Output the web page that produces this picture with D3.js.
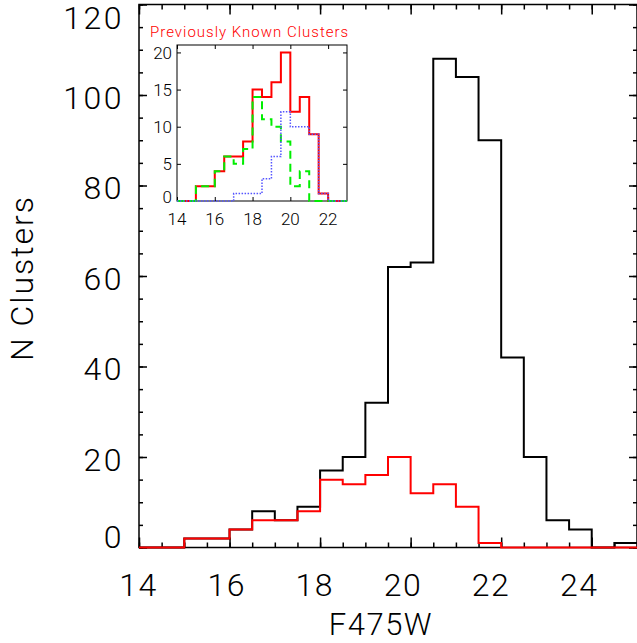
<!DOCTYPE html>
<html>
<head>
<meta charset="utf-8">
<script src="https://cdn.jsdelivr.net/npm/d3@7"></script>
<style>
  body { margin: 0; background: #fff; }
  svg { display: block; }
  text { font-family: Roboto, "DejaVu Sans", sans-serif; font-weight: 300; }
</style>
</head>
<body>
<script>

// histogram bins: first edge at 14 mag, 0.5 mag wide
var binStart = 14;
var binWidth = 0.5;

// main panel counts (all clusters, and previously known ones)
var allClusters   = [0, 0, 2, 2, 4, 8, 6, 9, 17, 20, 32, 62, 63, 108, 104, 90, 42, 20, 6, 4, 0, 1];
var knownClusters = [0, 0, 2, 2, 4, 6, 6, 8, 15, 14, 16, 20, 12, 14, 9, 1, 0, 0, 0, 0, 0, 0];

// inset counts (14 - 23 mag)
var insetKnown = [0, 0, 2, 2, 4, 6, 6, 8, 15, 14, 16, 20, 12, 14, 9, 1, 0, 0];
var insetGreen = [0, 0, 2, 2, 4, 6, 5, 7, 14, 11, 10, 8, 2, 4, 0, 0, 0, 0];
var insetBlue  = [0, 0, 0, 0, 0, 0, 1, 1, 1, 3, 6, 12, 10, 10, 9, 1, 0, 0];

var xTicks = [14, 16, 18, 20, 22, 24];
var yTicks = [0, 20, 40, 60, 80, 100, 120];
var insetXTicks = [14, 16, 18, 20, 22];
var insetYTicks = [0, 5, 10, 15, 20];

var width = 637;
var height = 643;

var svg = d3.select('body')
    .append('svg')
    .attr('width', width)
    .attr('height', height);

// main scales
var x_scale = d3.scaleLinear().domain([14, 25]).range([139, 637]);
var y_scale = d3.scaleLinear().domain([0, 120]).range([547.5, 4.5]);

// inset scales
var ix_scale = d3.scaleLinear().domain([14, 23]).range([177, 347]);
var iy_scale = d3.scaleLinear().domain([0, 21]).range([201, 45]);

function stepPoints(counts) {
    var pts = counts.map(function(c, i) {
        return [binStart + i * binWidth, c];
    });
    pts.push([binStart + counts.length * binWidth, counts[counts.length - 1]]);
    return pts;
}

function range(a, b, step) {
    return d3.range(a, b + step / 2, step);
}

// draws the four sides of a frame with inward ticks
function frame(g, xs, ys, opt) {
    var x0 = xs.range()[0], x1 = xs.range()[1];
    var y0 = ys.range()[0], y1 = ys.range()[1];

    g.append('rect')
        .attr('x', x0).attr('y', y1)
        .attr('width', x1 - x0).attr('height', y0 - y1)
        .attr('fill', 'none')
        .attr('stroke', '#000')
        .attr('stroke-width', opt.sw);

    var sides = [
        {axis: d3.axisBottom(xs), tr: 'translate(0,' + y0 + ')', vals: opt.xMajor, minor: opt.xMinor, len: opt.xLen, mlen: opt.xMinLen},
        {axis: d3.axisTop(xs), tr: 'translate(0,' + y1 + ')', vals: opt.xMajor, minor: opt.xMinor, len: opt.xLen, mlen: opt.xMinLen},
        {axis: d3.axisLeft(ys), tr: 'translate(' + x0 + ',0)', vals: opt.yMajor, minor: opt.yMinor, len: opt.yLen, mlen: opt.yMinLen},
        {axis: d3.axisRight(ys), tr: 'translate(' + x1 + ',0)', vals: opt.yMajor, minor: opt.yMinor, len: opt.yLen, mlen: opt.yMinLen}
    ];

    sides.forEach(function(s) {
        g.append('g')
            .attr('transform', s.tr)
            .call(s.axis.tickValues(s.minor).tickSize(-s.mlen).tickFormat(''))
            .call(function(sel) { sel.select('.domain').remove(); });
        g.append('g')
            .attr('transform', s.tr)
            .call(s.axis.tickValues(s.vals).tickSize(-s.len).tickFormat(''))
            .call(function(sel) { sel.select('.domain').remove(); });
    });

    g.selectAll('.tick line')
        .attr('stroke', '#000')
        .attr('stroke-width', opt.sw);
}

// ---- main panel ----
var main = svg.append('g');

frame(main, x_scale, y_scale, {
    sw: 1.5,
    xMajor: xTicks, xMinor: range(14, 25, 0.5), xLen: 10, xMinLen: 5,
    yMajor: yTicks, yMinor: range(0, 120, 5), yLen: 8, yMinLen: 4
});

var line = d3.line()
    .x(function(d) { return x_scale(d[0]); })
    .y(function(d) { return y_scale(d[1]); })
    .curve(d3.curveStepAfter);

main.append('path')
    .attr('d', line(stepPoints(allClusters)))
    .attr('fill', 'none')
    .attr('stroke', '#000')
    .attr('stroke-width', 2);

main.append('path')
    .attr('d', line(stepPoints(knownClusters)))
    .attr('fill', 'none')
    .attr('stroke', '#ff0000')
    .attr('stroke-width', 2);

// tick labels (drift slightly left of the ticks, as in the original plot)
main.selectAll('.xlab')
    .data(xTicks)
    .enter()
    .append('text')
    .attr('class', 'xlab')
    .attr('x', function(d) { return x_scale(d) - 1.2 * (d - 14) - 0.5; })
    .attr('y', 584)
    .attr('dy', '0.36em')
    .attr('text-anchor', 'middle')
    .attr('font-size', 32)
    .attr('letter-spacing', 1.5)
    .text(function(d) { return d; });

main.selectAll('.ylab')
    .data(yTicks)
    .enter()
    .append('text')
    .attr('class', 'ylab')
    .attr('x', 124)
    .attr('y', function(d) {
        if (d === 120) return y_scale(d) + 13;
        if (d === 0) return y_scale(d) - 11;
        return y_scale(d) + 2;
    })
    .attr('dy', '0.36em')
    .attr('text-anchor', 'end')
    .attr('font-size', 32)
    .attr('letter-spacing', 2.5)
    .text(function(d) { return d; });

main.append('text')
    .attr('x', 381)
    .attr('y', 624)
    .attr('dy', '0.36em')
    .attr('text-anchor', 'middle')
    .attr('font-size', 31)
    .attr('letter-spacing', 1.5)
    .text('F475W');

main.append('text')
    .attr('transform', 'translate(33,278)rotate(-90)')
    .attr('text-anchor', 'middle')
    .attr('font-size', 32)
    .attr('letter-spacing', 2)
    .text('N Clusters');

// ---- inset ----
var inset = svg.append('g');

frame(inset, ix_scale, iy_scale, {
    sw: 1,
    xMajor: insetXTicks, xMinor: [], xLen: 4, xMinLen: 0,
    yMajor: insetYTicks, yMinor: [], yLen: 4, yMinLen: 0
});

var iline = d3.line()
    .x(function(d) { return ix_scale(d[0]); })
    .y(function(d) { return iy_scale(d[1]); })
    .curve(d3.curveStepAfter);

inset.append('path')
    .attr('d', iline(stepPoints(insetKnown)))
    .attr('fill', 'none')
    .attr('stroke', '#ff0000')
    .attr('stroke-width', 2);

inset.append('path')
    .attr('d', iline(stepPoints(insetGreen)))
    .attr('fill', 'none')
    .attr('stroke', '#00ee00')
    .attr('stroke-width', 2)
    .attr('stroke-dasharray', '8,5');

inset.append('path')
    .attr('d', iline(stepPoints(insetBlue)))
    .attr('fill', 'none')
    .attr('stroke', '#5555ff')
    .attr('stroke-width', 1.5)
    .attr('stroke-dasharray', '1.5,1.5');

inset.selectAll('.ixlab')
    .data(insetXTicks)
    .enter()
    .append('text')
    .attr('x', function(d) { return ix_scale(d); })
    .attr('y', 219)
    .attr('dy', '0.36em')
    .attr('text-anchor', 'middle')
    .attr('font-size', 17)
    .text(function(d) { return d; });

inset.selectAll('.iylab')
    .data(insetYTicks)
    .enter()
    .append('text')
    .attr('x', 172)
    .attr('y', function(d) { return d === 0 ? iy_scale(d) - 4 : iy_scale(d); })
    .attr('dy', '0.36em')
    .attr('text-anchor', 'end')
    .attr('font-size', 17)
    .text(function(d) { return d; });

inset.append('text')
    .attr('x', 150)
    .attr('y', 32)
    .attr('dy', '0.36em')
    .attr('fill', '#ff0000')
    .attr('font-size', 15)
    .attr('font-weight', 400)
    .attr('letter-spacing', 1)
    .text('Previously Known Clusters');

</script>
</body>
</html>
